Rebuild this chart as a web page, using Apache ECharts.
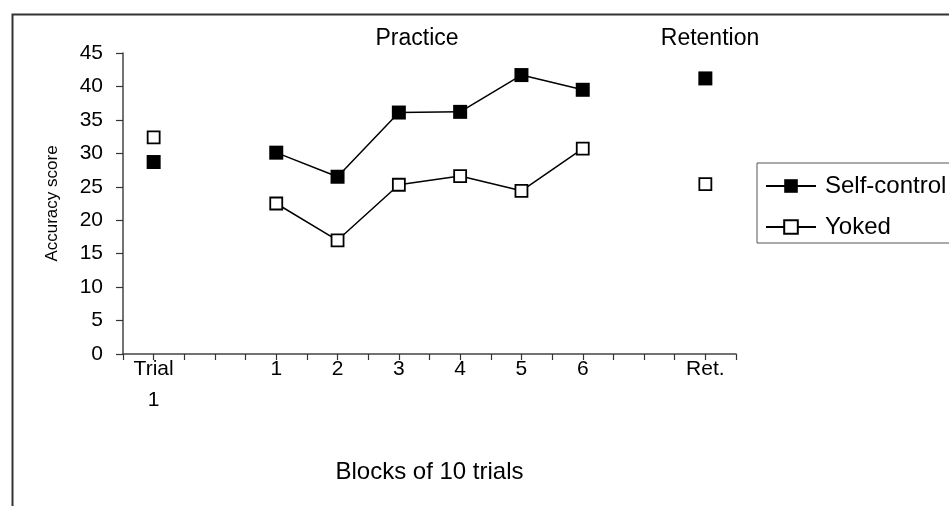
<!DOCTYPE html>
<html>
<head>
<meta charset="utf-8">
<script src="https://cdn.jsdelivr.net/npm/echarts@6/dist/echarts.min.js"></script>
<style>html,body{margin:0;padding:0;background:#fff;}#c{width:949px;height:506px;}</style>
</head>
<body>
<div id="c"></div>
<script>
var categories = ['Trial\n1', '', '1', '2', '3', '4', '5', '6', '', 'Ret.'];
var selfControl = [28.7, null, 30.1, 26.5, 36.1, 36.2, 41.7, 39.5, null, 41.2];
var yoked = [32.4, null, 22.5, 17.0, 25.3, 26.6, 24.4, 30.7, null, 25.4];
var yTicks = {min: 0, max: 45, interval: 5};
var halfTicks = ['', '', '', '', '', '', '', '', '', '', '', '', '', '', '', '', '', '', '', ''];

var FONT = "'Liberation Sans', Arial, sans-serif";
var chart = echarts.init(document.getElementById('c'), null, {renderer: 'canvas'});
chart.setOption({
  animation: false,
  backgroundColor: '#fff',
  graphic: [{
    type: 'rect', left: 10, top: 12, silent: true,
    shape: {width: 1000, height: 600},
    style: {fill: 'none', stroke: '#333', lineWidth: 2}
  }],
  title: [
    {text: 'Practice', left: 412, top: 22, textAlign: 'center',
     textStyle: {fontFamily: FONT, fontSize: 23, fontWeight: 'normal', color: '#000'}},
    {text: 'Retention', left: 705, top: 22, textAlign: 'center',
     textStyle: {fontFamily: FONT, fontSize: 23, fontWeight: 'normal', color: '#000'}}
  ],
  grid: {left: 123, right: 213, top: 53, bottom: 152, containLabel: false},
  legend: {
    orient: 'vertical', left: 757, top: 163,
    padding: [11, 40, 4, 8], itemGap: 17,
    itemWidth: 50, itemHeight: 17,
    borderColor: '#555', borderWidth: 1,
    textStyle: {fontFamily: FONT, fontSize: 24, color: '#000', padding: [0, 0, 0, 4]},
    data: ['Self-control', 'Yoked']
  },
  xAxis: [{
    type: 'category', data: categories, position: 'bottom', boundaryGap: true,
    name: 'Blocks of 10 trials', nameLocation: 'middle', nameGap: 106,
    nameTextStyle: {fontFamily: FONT, fontSize: 24, color: '#000'},
    axisLine: {lineStyle: {color: '#444', width: 1.5}},
    axisTick: {show: false},
    axisLabel: {interval: 0, fontFamily: FONT, fontSize: 21, color: '#000', margin: 0, lineHeight: 31}
  }, {
    type: 'category', data: halfTicks, position: 'bottom', boundaryGap: true,
    axisLine: {show: false},
    axisTick: {show: true, interval: 0, length: 6, lineStyle: {color: '#333', width: 1.2}},
    axisLabel: {show: false}
  }],
  yAxis: {
    type: 'value', min: yTicks.min, max: yTicks.max, interval: yTicks.interval,
    name: 'Accuracy score', nameLocation: 'middle', nameGap: 62, nameRotate: 90,
    nameTextStyle: {fontFamily: FONT, fontSize: 17, color: '#000'},
    axisLine: {show: true, lineStyle: {color: '#444', width: 1.5}},
    axisTick: {show: true, length: 7, lineStyle: {color: '#333', width: 1.2}},
    splitLine: {show: false},
    axisLabel: {fontFamily: FONT, fontSize: 21, color: '#000', margin: 20}
  },
  series: [{
    name: 'Self-control', type: 'line', data: selfControl, connectNulls: false,
    symbol: 'rect', symbolSize: 14,
    lineStyle: {color: '#000', width: 1.5},
    itemStyle: {color: '#000', borderColor: '#000', borderWidth: 0}
  }, {
    name: 'Yoked', type: 'line', data: yoked, connectNulls: false,
    symbol: 'rect', symbolSize: 12,
    lineStyle: {color: '#000', width: 1.5},
    itemStyle: {color: '#fff', borderColor: '#000', borderWidth: 1.8}
  }]
});
</script>
</body>
</html>
